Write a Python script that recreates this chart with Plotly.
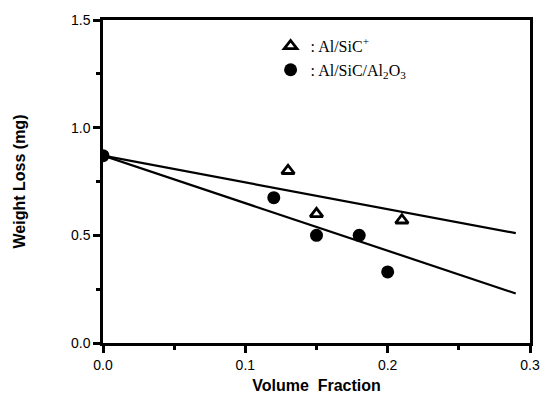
import plotly.graph_objects as go

sic_x = [0.13, 0.15, 0.21]
sic_y = [0.80, 0.60, 0.57]
al2o3_x = [0.0, 0.12, 0.15, 0.18, 0.20]
al2o3_y = [0.87, 0.675, 0.50, 0.50, 0.33]
fit_x = [0.0, 0.29]
fit_sic_y = [0.87, 0.51]
fit_al2o3_y = [0.87, 0.23]

fig = go.Figure()
fig.add_trace(go.Scatter(x=fit_x, y=fit_sic_y, mode="lines",
                         line=dict(color="black", width=2.2), showlegend=False))
fig.add_trace(go.Scatter(x=fit_x, y=fit_al2o3_y, mode="lines",
                         line=dict(color="black", width=2.2), showlegend=False))
fig.add_trace(go.Scatter(x=sic_x, y=sic_y, mode="markers", name=": Al/SiC<sup>+</sup>",
                         marker=dict(symbol="triangle-up-open", size=11, color="black",
                                     line=dict(width=2.8, color="black"))))
fig.add_trace(go.Scatter(x=al2o3_x, y=al2o3_y, mode="markers", name=": Al/SiC/Al<sub>2</sub>O<sub>3</sub>",
                         marker=dict(symbol="circle", size=13, color="black")))

axis_common = dict(showline=True, linecolor="black", linewidth=2.5, mirror=True,
                   ticks="outside", tickcolor="black", tickwidth=2.5, showgrid=False,
                   zeroline=False, tickformat=".1f",
                   tickfont=dict(family="Liberation Sans, Arial", size=14, color="black"))

fig.update_xaxes(range=[0, 0.3], dtick=0.1, ticklen=7,
                 minor=dict(dtick=0.05, ticks="outside", ticklen=4, tickcolor="black", tickwidth=2.5),
                 title=dict(text="<b>Volume  Fraction</b>", standoff=9,
                            font=dict(family="Liberation Sans, Arial", size=16, color="black")),
                 **axis_common)
fig.update_yaxes(range=[0, 1.5], dtick=0.5, ticklen=7,
                 minor=dict(dtick=0.25, ticks="outside", ticklen=4, tickcolor="black", tickwidth=2.5),
                 title=dict(text="<b>Weight Loss (mg)</b>", standoff=42,
                            font=dict(family="Liberation Sans, Arial", size=16, color="black")),
                 **axis_common)

fig.update_layout(
    width=552, height=414,
    margin=dict(l=103, r=21, t=15, b=71),
    plot_bgcolor="white", paper_bgcolor="white",
    legend=dict(x=0.3925, y=0.972, xanchor="left", yanchor="top",
                bgcolor="rgba(0,0,0,0)", borderwidth=0, itemwidth=30, tracegroupgap=6,
                font=dict(family="Liberation Serif, Times New Roman", size=16, color="black")),
)

fig.write_html("out.html")
